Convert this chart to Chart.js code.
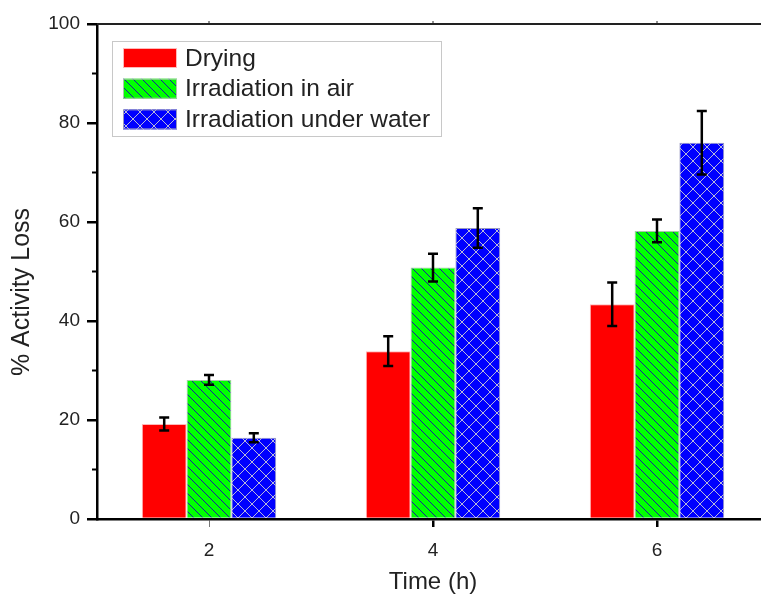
<!DOCTYPE html>
<html>
<head>
<meta charset="utf-8">
<script src="https://cdn.jsdelivr.net/npm/chart.js@4"></script>
<style>
html, body { margin: 0; padding: 0; background: #fff; overflow: hidden; }
#wrap { width: 780px; height: 596px; }
</style>
</head>
<body>
<div id="wrap"><canvas id="chart" width="780" height="596"></canvas></div>
<script>
const categories = ["2", "4", "6"];
const seriesNames = ["Drying", "Irradiation in air", "Irradiation under water"];
const drying = [19.2, 33.9, 43.4];
const dryingErr = [1.3, 3.0, 4.4];
const air = [28.1, 50.8, 58.2];
const airErr = [1.0, 2.8, 2.3];
const water = [16.4, 58.8, 76.0];
const waterErr = [0.9, 4.0, 6.4];
const yMinorTicks = [10, 30, 50, 70, 90];
const xTitle = "Time (h)";
const yTitle = "% Activity Loss";

Chart.defaults.font.family = "'Liberation Sans', Arial, sans-serif";

// pixel hatch patterns (origin style fills)
function makePattern(bg, lineColor, size, cross) {
    const c = document.createElement("canvas");
    c.width = size;
    c.height = size;
    const g = c.getContext("2d");
    g.fillStyle = bg;
    g.fillRect(0, 0, size, size);
    g.fillStyle = lineColor;
    for (let i = 0; i < size; i++) {
        g.fillRect(i, i, 1, 1);
        if (cross) g.fillRect(size - 1 - i, i, 1, 1);
    }
    return g.createPattern(c, "repeat");
}

const ctx = document.getElementById("chart").getContext("2d");
const greenHatch = makePattern("#00ff00", "#1a1aa0", 9, false);
const blueHatch = makePattern("#0000ff", "#b8b8d8", 14, true);

const errors = [dryingErr, airErr, waterErr];

const decor = {
    id: "decor",
    afterDatasetsDraw(chart) {
        const c = chart.ctx;
        const y = chart.scales.y;
        c.save();
        c.strokeStyle = "#000";
        c.lineWidth = 2.5;
        chart.data.datasets.forEach(function (ds, i) {
            const meta = chart.getDatasetMeta(i);
            meta.data.forEach(function (bar, j) {
                const v = ds.data[j];
                const e = errors[i][j];
                const top = y.getPixelForValue(v + e);
                const bot = y.getPixelForValue(v - e);
                c.beginPath();
                c.moveTo(bar.x, top); c.lineTo(bar.x, bot);
                c.moveTo(bar.x - 5, top); c.lineTo(bar.x + 5, top);
                c.moveTo(bar.x - 5, bot); c.lineTo(bar.x + 5, bot);
                c.stroke();
            });
        });
        c.restore();
    },
    afterDraw(chart) {
        const c = chart.ctx;
        const area = chart.chartArea;
        const y = chart.scales.y;
        const x = chart.scales.x;
        c.save();
        // top frame line
        c.strokeStyle = "#222";
        c.lineWidth = 2;
        c.beginPath();
        c.moveTo(area.left, area.top);
        c.lineTo(chart.width, area.top);
        c.stroke();
        c.lineWidth = 1;
        c.beginPath();
        categories.forEach(function (cat, i) {
            const px = x.getPixelForValue(i);
            c.moveTo(px, area.top);
            c.lineTo(px, area.top - 3);
        });
        c.stroke();
        // minor ticks on y
        c.strokeStyle = "#000";
        c.lineWidth = 2;
        c.beginPath();
        yMinorTicks.forEach(function (v) {
            const py = y.getPixelForValue(v);
            c.moveTo(area.left - 5, py);
            c.lineTo(area.left, py);
        });
        c.stroke();
        // axis titles
        c.fillStyle = "#222";
        c.textAlign = "center";
        c.textBaseline = "middle";
        c.font = "24px 'Liberation Sans', Arial, sans-serif";
        c.fillText(xTitle, (area.left + area.right) / 2, 582);
        c.save();
        c.translate(22, 292);
        c.rotate(-Math.PI / 2);
        c.font = "25px 'Liberation Sans', Arial, sans-serif";
        c.fillText(yTitle, 0, 0);
        c.restore();
        // legend
        c.fillStyle = "#fff";
        c.fillRect(112, 41, 329, 95);
        c.strokeStyle = "#c8c8c8";
        c.lineWidth = 1;
        c.strokeRect(112.5, 41.5, 329, 95);
        c.font = "24.5px 'Liberation Sans', Arial, sans-serif";
        c.textAlign = "left";
        c.textBaseline = "middle";
        chart.data.datasets.forEach(function (ds, i) {
            const cy = 58 + i * 30.7;
            c.fillStyle = ds.backgroundColor;
            c.fillRect(123, cy - 10, 54, 20);
            c.strokeStyle = ds.borderColor;
            c.strokeRect(123.5, cy - 9.5, 53, 19);
            c.fillStyle = "#222";
            c.fillText(ds.label, 185, cy + 1);
        });
        c.restore();
    }
};

new Chart(ctx, {
    type: "bar",
    data: {
        labels: categories,
        datasets: [
            { label: seriesNames[0], data: drying, backgroundColor: "#ff0000", borderColor: "#ffb8b8", borderWidth: 1 },
            { label: seriesNames[1], data: air, backgroundColor: greenHatch, borderColor: "#a8c8a8", borderWidth: 1 },
            { label: seriesNames[2], data: water, backgroundColor: blueHatch, borderColor: "#9898c0", borderWidth: 1 }
        ]
    },
    options: {
        responsive: false,
        animation: false,
        layout: { padding: { top: 24, right: 11, left: 0, bottom: 0 } },
        datasets: { bar: { categoryPercentage: 0.6, barPercentage: 1.0 } },
        plugins: { legend: { display: false }, tooltip: { enabled: false } },
        scales: {
            x: {
                offset: true,
                afterFit: function (s) { s.height = 77; },
                grid: {
                    offset: false,
                    drawOnChartArea: false,
                    tickLength: 8,
                    color: function (c) { return c.index === 0 ? "#777" : "#000"; },
                    lineWidth: function (c) { return c.index === 0 ? 1 : 2.5; }
                },
                border: { display: true, color: "#000", width: 2.5 },
                ticks: { font: { size: 19 }, color: "#222", padding: 12 }
            },
            y: {
                min: 0,
                max: 100,
                afterFit: function (s) { s.width = 97; },
                grid: { drawOnChartArea: false, tickLength: 10, color: "#000", lineWidth: 2.5 },
                border: { display: true, color: "#000", width: 2.5 },
                ticks: { stepSize: 20, font: { size: 19 }, color: "#222", padding: 7 }
            }
        }
    },
    plugins: [decor]
});
</script>
</body>
</html>
